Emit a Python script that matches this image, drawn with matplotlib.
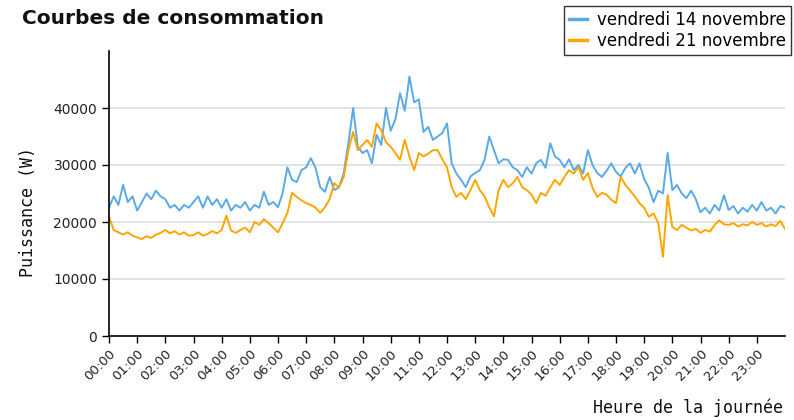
import matplotlib
matplotlib.use("Agg")
import matplotlib.pyplot as plt
import numpy as np

# time of each reading, minutes after midnight (every 10 min)
minutes = list(range(0, 1441, 10))

# vendredi 14 novembre (W)
conso_14 = [
    22500, 24500, 23000, 26500, 23500, 24500,
    22000, 23500, 25000, 24000, 25500, 24500,
    24000, 22500, 23000, 22000, 23000, 22500,
    23500, 24500, 22500, 24500, 23000, 24000,
    22500, 24000, 22000, 23000, 22500, 23500,
    22000, 23000, 22500, 25300, 23000, 23500,
    22600, 25100, 29600, 27400, 27000, 29100,
    29600, 31200, 29500, 26100, 25300, 27900,
    25600, 26100, 28600, 33800, 40000, 33200,
    32100, 32600, 30300, 35300, 33500, 40000,
    36000, 38000, 42600, 39500, 45500, 41000,
    41500, 35800, 36700, 34400, 35000, 35600,
    37300, 30300, 28500, 27400, 26100, 28000,
    28600, 29100, 30900, 35000, 32600, 30300,
    31000, 30900, 29600, 29100, 27900, 29600,
    28500, 30300, 30900, 29500, 33800, 31500,
    30900, 29600, 31000, 29100, 30000, 28500,
    32600, 30000, 28600, 27900, 29000, 30300,
    28800, 28000, 29500, 30300, 28500, 30300,
    27500, 26000, 23500, 25500, 25000, 32100,
    25600, 26500, 25000, 24200, 25500, 24000,
    21700, 22500, 21500, 23000, 22000, 24700,
    22100, 22800, 21500, 22500, 21800, 23000,
    22000, 23500, 22000, 22500, 21500, 22800,
    22500,
]

# vendredi 21 novembre (W)
conso_21 = [
    20900, 18600, 18200, 17800, 18200, 17600,
    17300, 17000, 17500, 17200, 17800, 18100,
    18600, 18000, 18400, 17800, 18200, 17600,
    17700, 18200, 17600, 17900, 18400, 18000,
    18600, 21100, 18500, 18100, 18600, 19000,
    18200, 20000, 19500, 20500, 19800, 19000,
    18200, 19800, 21600, 25100, 24400, 23800,
    23300, 23000, 22500, 21600, 22600, 24000,
    26800, 26100, 27900, 32600, 35800, 32600,
    33500, 34400, 33200, 37300, 36100, 34000,
    33200, 32100, 30900, 34400, 31500, 29100,
    32100, 31500, 32000, 32600, 32600, 31000,
    29600, 26100, 24400, 25100, 24000, 25600,
    27400, 25600, 24500, 22600, 21000, 25600,
    27400, 26100, 26800, 27900, 26100, 25600,
    24800, 23300, 25100, 24600, 26100, 27400,
    26500, 27900, 29100, 28500, 29600, 27400,
    28600, 26000, 24400, 25100, 24800, 23900,
    23300, 27900, 26500, 25500, 24500, 23300,
    22500, 20900, 21500, 19800, 13900, 24700,
    19100, 18600, 19500, 19000, 18500, 18800,
    18100, 18600, 18300, 19500, 20300, 19600,
    19500, 19800, 19200, 19600, 19400, 20000,
    19500, 19800, 19200, 19600, 19300, 20200,
    18800,
]

series_names = ["vendredi 14 novembre", "vendredi 21 novembre"]
tick_minutes = list(range(0, 1440, 60))
tick_labels = ["%02d:00" % h for h in range(24)]
y_ticks = [0, 10000, 20000, 30000, 40000]

fig = plt.figure(figsize=(7.94, 4.2), dpi=100)
ax = fig.add_axes([109 / 794, 1 - 336 / 420, (785 - 109) / 794, (336 - 51) / 420])

l1, = ax.plot(minutes, conso_14, color="#5aaae6", lw=1.4, label=series_names[0])
l2, = ax.plot(minutes, conso_21, color="#ffa500", lw=1.4, label=series_names[1])

ax.set_xlim(0, 1440)
ax.set_ylim(0, 50000)
ax.set_yticks(y_ticks)
ax.set_yticklabels([str(v) for v in y_ticks], fontsize=10, color="#222222")
ax.set_xticks(tick_minutes)
ax.set_xticklabels(tick_labels, rotation=45, ha="right", va="top",
                   rotation_mode="anchor", fontsize=9.5, color="#222222")
ax.tick_params(axis="both", direction="out", length=5, width=1, color="black")
ax.tick_params(axis="x", pad=3)
for s in ["top", "right"]:
    ax.spines[s].set_visible(False)
for s in ["left", "bottom"]:
    ax.spines[s].set_linewidth(1.2)
    ax.spines[s].set_color("black")
ax.yaxis.grid(True, color="#dddddd", lw=1.2)
ax.set_axisbelow(True)

fig.text(22 / 794, 1 - 18 / 420, "Courbes de consommation", fontsize=14.5,
         fontweight="bold", ha="left", va="center", color="#111111")
fig.text(783 / 794, 1 - 408 / 420, "Heure de la journée", fontsize=12,
         family="DejaVu Sans Mono", ha="right", va="center", color="#111111")
fig.text(28 / 794, 1 - 212 / 420, "Puissance (W)", fontsize=12,
         family="DejaVu Sans Mono", rotation=90, ha="center", va="center",
         color="#111111")

leg = fig.legend(handles=[l1, l2], loc="upper right",
                 bbox_to_anchor=(791 / 794, 1 - 6 / 420),
                 fontsize=12, frameon=True, fancybox=False,
                 edgecolor="black", handlelength=1.1, handletextpad=0.6,
                 borderpad=0.3, borderaxespad=0, labelspacing=0.15)
leg.get_frame().set_linewidth(1.0)
for h in leg.legend_handles:
    h.set_linewidth(2.5)

fig.savefig("out.png", dpi=100)
